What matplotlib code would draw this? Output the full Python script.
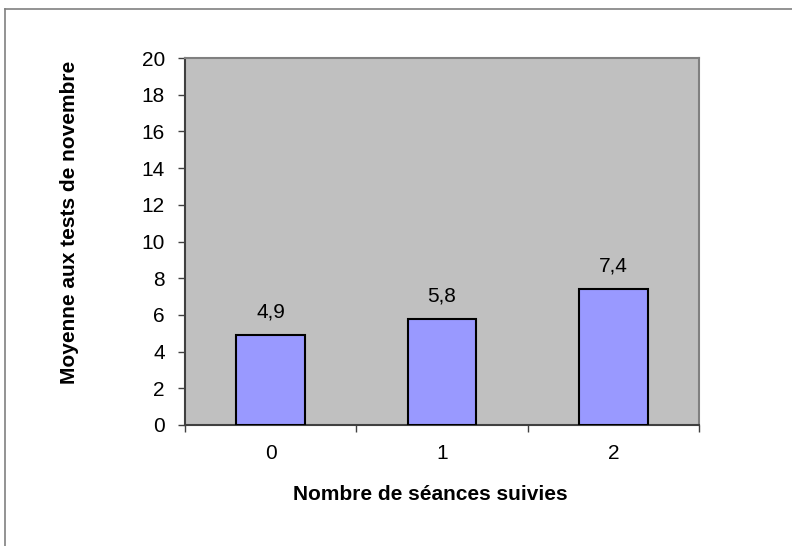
import matplotlib
matplotlib.use("Agg")
import matplotlib.pyplot as plt
from matplotlib.lines import Line2D

categories = ["0", "1", "2"]
values = [4.9, 5.8, 7.4]
value_labels = ["4,9", "5,8", "7,4"]
yticks = [0, 2, 4, 6, 8, 10, 12, 14, 16, 18, 20]

plt.rcParams['font.family'] = ['Liberation Sans', 'DejaVu Sans']

W, H = 792, 546
FS = 15
fig = plt.figure(figsize=(W / 100, H / 100), dpi=100)
fig.patch.set_facecolor("white")

# outer chart frame (only top & left visible)
fig.add_artist(Line2D([5 / W, 5 / W], [0, 1 - 9 / H], color="#808080", lw=1.2, transform=fig.transFigure))
fig.add_artist(Line2D([5 / W, 1], [1 - 9 / H, 1 - 9 / H], color="#808080", lw=1.2, transform=fig.transFigure))

left, right, top, bottom = 185, 699, 58, 425
ax = fig.add_axes([left / W, 1 - bottom / H, (right - left) / W, (bottom - top) / H])
ax.set_facecolor("#C0C0C0")

x = list(range(len(categories)))
ax.bar(x, values, width=0.4, color="#9999FF", edgecolor="black", linewidth=1.5, zorder=3)

for xi, v, lab in zip(x, values, value_labels):
    ax.annotate(lab, (xi, v), xytext=(0, 16.5), textcoords="offset points",
                ha="center", va="center", fontsize=FS, color="black")

ax.set_xlim(-0.5, len(categories) - 0.5)
ax.set_ylim(0, 20)
ax.set_yticks(yticks)
ax.set_yticklabels([str(t) for t in yticks], fontsize=FS)

# x ticks at category boundaries, labels at centres
ax.set_xticks([i - 0.5 for i in range(len(categories) + 1)])
ax.set_xticklabels([""] * (len(categories) + 1))
ax.set_xticks(x, minor=True)
ax.set_xticklabels(categories, minor=True, fontsize=FS)
ax.tick_params(axis="x", which="minor", length=0, pad=14)
ax.tick_params(axis="x", which="major", length=5, width=1, color="#404040", direction="out")
ax.tick_params(axis="y", length=5, width=1, color="#404040", direction="out", pad=9.5)

for s in ["top", "right"]:
    ax.spines[s].set_color("#808080")
    ax.spines[s].set_linewidth(1.5)
for s in ["left", "bottom"]:
    ax.spines[s].set_color("#404040")
    ax.spines[s].set_linewidth(1.5)

fig.text(70 / W, 1 - 222 / H, "Moyenne aux tests de novembre", rotation=90,
         ha="center", va="center", fontsize=FS, fontweight="bold")
fig.text(430 / W, 1 - 494 / H, "Nombre de séances suivies",
         ha="center", va="center", fontsize=FS, fontweight="bold")

fig.savefig("out.png", dpi=100)
